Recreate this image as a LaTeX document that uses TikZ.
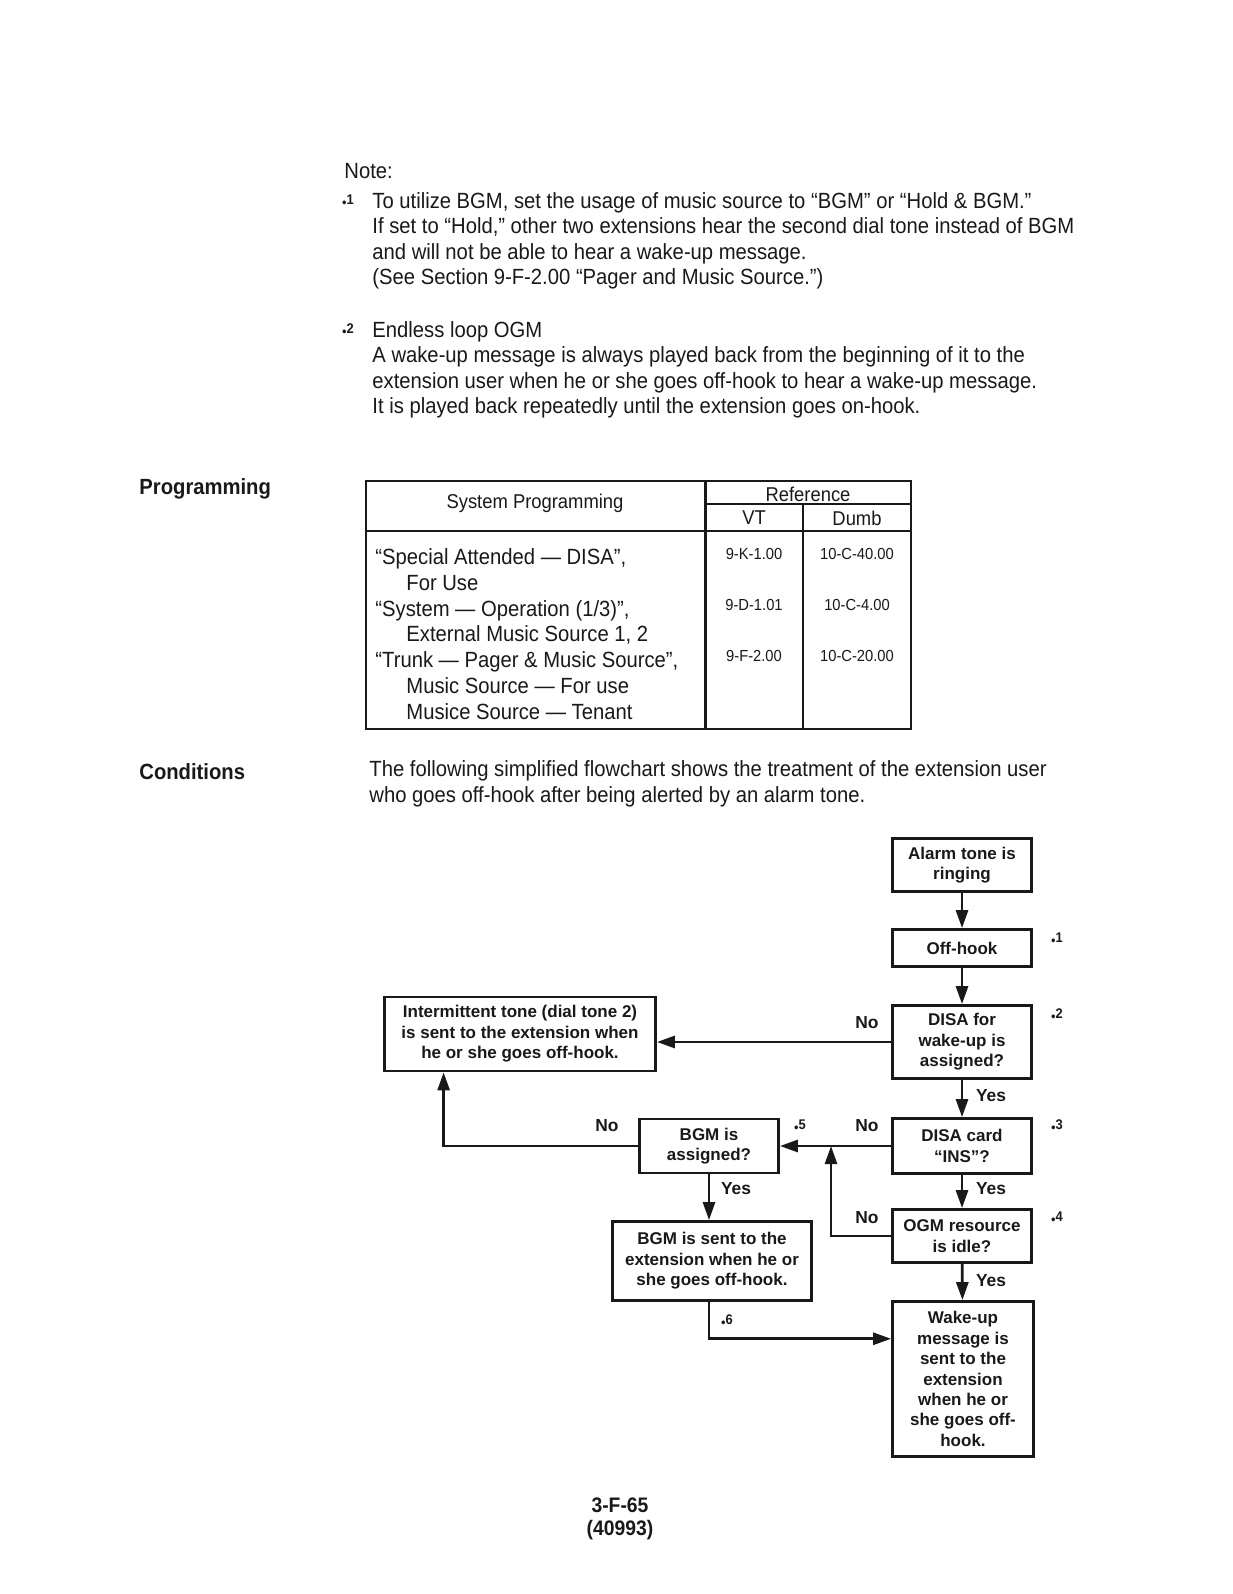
\documentclass[tikz,border=0pt]{standalone}
\usepackage{fontspec}
\setmainfont{Liberation Sans}
\newfontfamily\pagefont[FakeStretch=0.92]{Liberation Sans}
\newfontfamily\chartfont{Liberation Sans}
\usepackage{tikz}
\usetikzlibrary{arrows.meta, positioning, calc}
\definecolor{scanink}{RGB}{25, 25, 25}
\newcommand{\chartbox}[6]{%
  \node[flowbox, minimum width=#4*0.5pt, minimum height=#5*0.5pt] (#1) at (#2,#3) {#6};
}
\newcommand{\starmark}[1]{{\fontsize{7}{7}\selectfont\textbullet\raisebox{0.45ex}{\bfseries #1}}}
\tikzset{
  flowbox/.style={draw=scanink, line width=1.4pt, align=center, inner sep=1pt,
    font=\chartfont\bfseries\fontsize{8.5}{10.2}\selectfont},
  flowline/.style={draw=scanink, line width=1.4pt},
  flowarrow/.style={flowline, -{Triangle[length=9pt, width=6pt]}},
  branchlabel/.style={inner sep=0pt, font=\chartfont\bfseries\fontsize{8.7}{10}\selectfont},
  pagetext/.style={anchor=west, align=left, inner sep=0pt,
    font=\pagefont\fontsize{11}{12.7}\selectfont},
  sidehead/.style={anchor=west, inner sep=0pt,
    font=\pagefont\bfseries\fontsize{11}{12.7}\selectfont},
  tablecell/.style={inner sep=0pt, font=\pagefont\fontsize{8}{10}\selectfont},
  tablehead/.style={inner sep=0pt, font=\pagefont\fontsize{10}{11}\selectfont},
  tablerule/.style={draw=scanink, line width=1.2pt},
}

\begin{document}
\begin{tikzpicture}[x=0.5pt, y=-0.5pt, scanink]
    \fill[white] (0,0) rectangle (1232,1594);
    \useasboundingbox (0,0) rectangle (1232,1594);
    % Notes
    \node[pagetext] (notehead) at (344,171) {Note:};
    \node[tablecell] (mark1) at (348,201) {\starmark{1}};
    \node[pagetext] (note1) at (372,241) {To utilize BGM, set the usage of music source to “BGM” or “Hold \& BGM.”\\
      If set to “Hold,” other two extensions hear the second dial tone instead of BGM\\
      and will not be able to hear a wake-up message.\\
      (See Section 9-F-2.00 “Pager and Music Source.”)};
    \node[tablecell] (mark2) at (348,330) {\starmark{2}};
    \node[pagetext] (note2) at (372,370) {Endless loop OGM\\
      A wake-up message is always played back from the beginning of it to the\\
      extension user when he or she goes off-hook to hear a wake-up message.\\
      It is played back repeatedly until the extension goes on-hook.};
    % Programming table
    \node[sidehead] (proghead) at (139,489) {Programming};
    \draw[tablerule] (366,481) rectangle (911,729);
    \draw[tablerule] (366,531) -- (911,531);
    \draw[tablerule] (705.5,481) -- (705.5,729);
    \draw[tablerule] (803,504) -- (803,729);
    \draw[tablerule, line width=1pt] (705.5,504) -- (911,504);
    \node[tablehead] (syshead) at (535,503) {System Programming};
    \node[tablehead] (refhead) at (808,494) {Reference};
    \node[tablehead] (vthead) at (754,518) {VT};
    \node[tablehead] (dumbhead) at (857,518) {Dumb};
    \node[pagetext, font=\pagefont\fontsize{11}{12.9}\selectfont] (progrows) at (375,634) {“Special Attended — DISA”,\\
      \hspace*{15.5pt}For Use\\
      “System — Operation (1/3)”,\\
      \hspace*{15.5pt}External Music Source 1, 2\\
      “Trunk — Pager \& Music Source”,\\
      \hspace*{15.5pt}Music Source — For use\\
      \hspace*{15.5pt}Musice Source — Tenant};
    \node[tablecell] (vt1) at (754,554) {9-K-1.00};
    \node[tablecell] (vt2) at (754,605) {9-D-1.01};
    \node[tablecell] (vt3) at (754,656) {9-F-2.00};
    \node[tablecell] (dumb1) at (857,554) {10-C-40.00};
    \node[tablecell] (dumb2) at (857,605) {10-C-4.00};
    \node[tablecell] (dumb3) at (857,656) {10-C-20.00};
    % Conditions
    \node[sidehead] (condhead) at (139,772) {Conditions};
    \node[pagetext] (condtext) at (369,784) {The following simplified flowchart shows the treatment of the extension user\\
      who goes off-hook after being alerted by an alarm tone.};
    % Flowchart boxes
    \chartbox{alarm}{962}{865}{139}{53}{Alarm tone is\\ringing}
    \chartbox{offhook}{962}{948}{139}{37}{Off-hook}
    \chartbox{disa}{962}{1042}{139}{73}{DISA for\\wake-up is\\assigned?}
    \chartbox{interm}{520}{1034}{271}{74}{Intermittent tone (dial tone 2)\\is sent to the extension when\\he or she goes off-hook.}
    \chartbox{card}{962}{1146}{139}{55}{DISA card\\“INS”?}
    \chartbox{bgmq}{709}{1146}{139}{54}{BGM is\\assigned?}
    \chartbox{ogm}{962}{1236}{139}{53}{OGM resource\\is idle?}
    \chartbox{bgmsent}{712}{1261}{199}{79}{BGM is sent to the\\extension when he or\\she goes off-hook.}
    \chartbox{wake}{963}{1379}{141}{155}{Wake-up\\message is\\sent to the\\extension\\when he or\\she goes off-\\hook.}
    % Connectors
    \coordinate (merge) at (831,1146);
    \coordinate (wakein) at ($(wake.north west)!0.245!(wake.south west)$);
    \coordinate (intermfoot) at ($(interm.south west)!0.221!(interm.south east)$);
    \draw[flowarrow] (alarm) -- (offhook);
    \draw[flowarrow] (offhook) -- (disa);
    \draw[flowarrow] (disa.west) -- (disa.west -| interm.east);
    \draw[flowarrow] (disa) -- (card);
    \draw[flowarrow] (card.west) -- (card.west -| bgmq.east);
    \draw[flowarrow] (card) -- (ogm);
    \draw[flowarrow] (ogm) -- (wake);
    \draw[flowarrow] (ogm.west) -| (merge);
    \draw[flowarrow] (bgmq.west) -| (intermfoot);
    \draw[flowarrow] (bgmq.south) -- (bgmq.south |- bgmsent.north);
    \draw[flowarrow] (bgmq.south |- bgmsent.south) |- (wakein);
    % Branch labels
    \node[branchlabel] (nodisa) at (867,1023) {No};
    \node[branchlabel] (yesdisa) at (991,1096) {Yes};
    \node[branchlabel] (nocard) at (867,1126) {No};
    \node[branchlabel] (yescard) at (991,1189) {Yes};
    \node[branchlabel] (noogm) at (867,1218) {No};
    \node[branchlabel] (yesogm) at (991,1281) {Yes};
    \node[branchlabel] (nobgm) at (607,1126) {No};
    \node[branchlabel] (yesbgm) at (736,1189) {Yes};
    % Footnote marks
    \node[tablecell] (star1) at (1057,939) {\starmark{1}};
    \node[tablecell] (star2) at (1057,1015) {\starmark{2}};
    \node[tablecell] (star3) at (1057,1126) {\starmark{3}};
    \node[tablecell] (star4) at (1057,1218) {\starmark{4}};
    \node[tablecell] (star5) at (800,1126) {\starmark{5}};
    \node[tablecell] (star6) at (727,1321) {\starmark{6}};
    % Page number
    \node[inner sep=0pt, font=\pagefont\bfseries\fontsize{10.5}{12}\selectfont] (pageno) at (620,1505) {3-F-65};
    \node[inner sep=0pt, font=\pagefont\bfseries\fontsize{10.5}{12}\selectfont] (docno) at (620,1530) {(40993)};
\end{tikzpicture}
\end{document}
